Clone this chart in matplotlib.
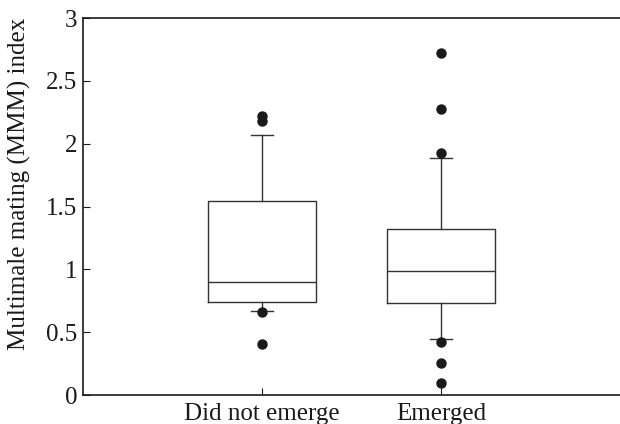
import matplotlib
matplotlib.use('Agg')
import matplotlib.pyplot as plt

# values (MMM index)
groups = ['Did not emerge', 'Emerged']
q1 = [0.742, 0.734]
medians = [0.897, 0.987]
q3 = [1.546, 1.318]
whisker_low = [0.668, 0.443]
whisker_high = [2.069, 1.888]
outliers = [
    [2.22, 2.18, 0.66, 0.406],
    [2.724, 2.276, 1.928, 0.425, 0.257, 0.098],
]
y_ticks = [0, 0.5, 1, 1.5, 2, 2.5, 3]
y_tick_labels = ['0', '0.5', '1', '1.5', '2', '2.5', '3']

plt.rcParams['font.family'] = ['Liberation Serif', 'DejaVu Serif']


def make_stats():
    stats = []
    for i, name in enumerate(groups):
        stats.append({
            'label': name,
            'q1': q1[i],
            'med': medians[i],
            'q3': q3[i],
            'whislo': whisker_low[i],
            'whishi': whisker_high[i],
            'fliers': outliers[i],
        })
    return stats


def main() -> None:
    fig = plt.figure(figsize=(6.2, 4.24), dpi=100)
    ax = fig.add_axes([0.134, 0.068, 0.866, 0.8895])

    line_color = '#333333'
    ax.bxp(make_stats(), positions=[1, 2], widths=0.6, capwidths=0.12,
           boxprops=dict(color=line_color, linewidth=1.0),
           medianprops=dict(color=line_color, linewidth=1.0),
           whiskerprops=dict(color=line_color, linewidth=1.0),
           capprops=dict(color=line_color, linewidth=1.0),
           flierprops=dict(marker='o', markerfacecolor='#1a1a1a',
                           markeredgecolor='#1a1a1a', markersize=6.5))

    ax.set_xlim(0, 3)
    ax.set_ylim(0, 3)
    ax.set_yticks(y_ticks)
    ax.set_yticklabels(y_tick_labels)
    ax.set_xticks([1, 2])
    ax.set_xticklabels(groups)
    ax.tick_params(direction='in', length=5, width=0.8, labelsize=18,
                   colors='#1a1a1a')
    ax.tick_params(axis='x', pad=5.5)
    ax.tick_params(axis='y', pad=4)
    ax.spines['right'].set_visible(False)
    for side in ['top', 'bottom', 'left']:
        ax.spines[side].set_linewidth(1.2)
        ax.spines[side].set_color('#1a1a1a')
    ax.set_ylabel('Multimale mating (MMM) index', fontsize=18, color='#1a1a1a')
    # label in the reference sits a bit above the axes centre
    ax.yaxis.set_label_coords(-0.097, 0.56)

    plt.savefig('out.png', dpi=100)


if __name__ == '__main__':
    main()
